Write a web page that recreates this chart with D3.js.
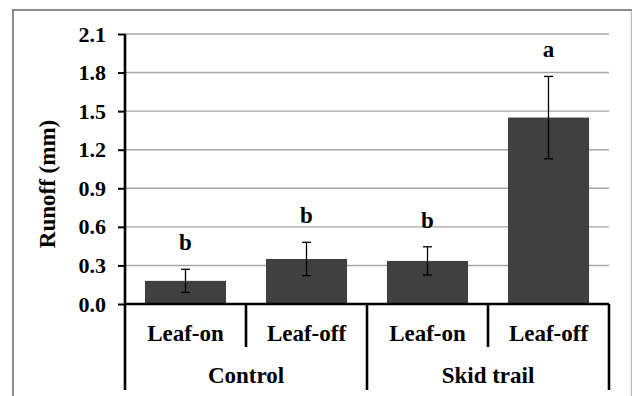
<!DOCTYPE html>
<html>
<head>
<meta charset="utf-8">
<script src="https://cdn.jsdelivr.net/npm/d3@7"></script>
<style>
  body { margin: 0; background: #fff; }
</style>
</head>
<body>
<svg width="632" height="396"></svg>
<script>
// values
const groups = ["Control", "Skid trail"];
const seasons = ["Leaf-on", "Leaf-off", "Leaf-on", "Leaf-off"];
const runoff = [0.18, 0.35, 0.335, 1.45];
const stdErr = [0.09, 0.13, 0.11, 0.32];
const letters = ["b", "b", "b", "a"];
const yTicks = [0, 0.3, 0.6, 0.9, 1.2, 1.5, 1.8, 2.1];

const serif = "'Liberation Serif', 'DejaVu Serif', serif";

const svg = d3.select('svg');
const width = +svg.attr('width');
const height = +svg.attr('height');
const margin = {top: 34, right: 23, bottom: 92, left: 125};
const innerWidth = width - margin.left - margin.right;
const innerHeight = height - margin.top - margin.bottom;

// chart frame
svg.append('rect')
  .attr('x', 13).attr('y', 10)
  .attr('width', 618).attr('height', 400)
  .attr('fill', '#fff')
  .attr('stroke', '#8c8c8c')
  .attr('stroke-width', 2);
svg.append('line')
  .attr('x1', 630.5).attr('x2', 630.5).attr('y1', 11).attr('y2', 396)
  .attr('stroke', '#eee').attr('stroke-width', 2);

const g = svg.append('g').attr('transform', `translate(${margin.left},${margin.top})`);

const idx = d3.range(runoff.length);
const xScale = d3.scaleBand()
  .domain(idx)
  .range([0, innerWidth])
  .paddingInner(0.33)
  .paddingOuter(0.165);
const xBound = d3.scaleLinear().domain([0, idx.length]).range([0, innerWidth]);
const yScale = d3.scaleLinear().domain([0, 2.1]).range([innerHeight, 0]);

// gridlines
g.selectAll('.grid')
  .data(yTicks.slice(1))
  .enter().append('line')
  .attr('x1', 0).attr('x2', innerWidth)
  .attr('y1', d => yScale(d)).attr('y2', d => yScale(d))
  .attr('stroke', '#a6a6a6').attr('stroke-width', 1.4);

// bars
g.selectAll('.bar')
  .data(idx)
  .enter().append('rect')
  .attr('x', i => xScale(i))
  .attr('y', i => yScale(runoff[i]))
  .attr('width', xScale.bandwidth())
  .attr('height', i => innerHeight - yScale(runoff[i]))
  .attr('fill', '#404040');

// error bars
const cap = 4.5;
const eb = g.selectAll('.err').data(idx).enter().append('g')
  .attr('transform', i => `translate(${xScale(i) + xScale.bandwidth() / 2},0)`)
  .attr('stroke', '#000').attr('stroke-width', 1.3);
eb.append('line')
  .attr('y1', i => yScale(runoff[i] + stdErr[i]))
  .attr('y2', i => yScale(runoff[i] - stdErr[i]));
eb.append('line').attr('x1', -cap).attr('x2', cap)
  .attr('y1', i => yScale(runoff[i] + stdErr[i]))
  .attr('y2', i => yScale(runoff[i] + stdErr[i]));
eb.append('line').attr('x1', -cap).attr('x2', cap)
  .attr('y1', i => yScale(runoff[i] - stdErr[i]))
  .attr('y2', i => yScale(runoff[i] - stdErr[i]));

// significance letters
g.selectAll('.letter')
  .data(idx)
  .enter().append('text')
  .attr('x', i => xScale(i) + xScale.bandwidth() / 2)
  .attr('y', i => yScale(runoff[i] + stdErr[i]) - 19)
  .attr('text-anchor', 'middle')
  .style('font-family', serif).style('font-weight', 'bold')
  .style('font-size', '23px')
  .text(i => letters[i]);

// y axis
const yAxis = g.append('g')
  .call(d3.axisLeft(yScale).tickValues(yTicks).tickFormat(d3.format('.1f')).tickSize(7).tickPadding(12));
yAxis.attr('font-family', null).attr('font-size', null);
yAxis.select('.domain').remove();
yAxis.selectAll('.tick line').attr('stroke', '#000').attr('stroke-width', 2);
yAxis.selectAll('.tick text').attr('fill', '#000')
  .style('font-family', serif).style('font-weight', 'bold').style('font-size', '22px');

// axis lines
const axisColor = '#000';
g.append('line')
  .attr('x1', 0).attr('x2', 0).attr('y1', yScale(2.1)).attr('y2', innerHeight + 86)
  .attr('stroke', axisColor).attr('stroke-width', 2.6);
g.append('line')
  .attr('x1', 0).attr('x2', innerWidth).attr('y1', innerHeight).attr('y2', innerHeight)
  .attr('stroke', axisColor).attr('stroke-width', 2.6);

// category separators: short between seasons, long between groups
g.selectAll('.sep')
  .data(d3.range(1, idx.length + 1))
  .enter().append('line')
  .attr('x1', d => xBound(d)).attr('x2', d => xBound(d))
  .attr('y1', innerHeight)
  .attr('y2', d => d % 2 === 0 ? innerHeight + 86 : innerHeight + 43)
  .attr('stroke', axisColor).attr('stroke-width', 2.6);

// season labels
g.selectAll('.season')
  .data(idx)
  .enter().append('text')
  .attr('x', i => xScale(i) + xScale.bandwidth() / 2)
  .attr('y', innerHeight + 37)
  .attr('text-anchor', 'middle')
  .style('font-family', serif).style('font-weight', 'bold')
  .style('font-size', '23px')
  .text(i => seasons[i]);

// group labels
g.selectAll('.group')
  .data(groups)
  .enter().append('text')
  .attr('x', (d, k) => xBound(k * 2 + 1))
  .attr('y', innerHeight + 79)
  .attr('text-anchor', 'middle')
  .style('font-family', serif).style('font-weight', 'bold')
  .style('font-size', '23px')
  .text(d => d);

// y title
svg.append('text')
  .attr('transform', 'translate(55,184) rotate(-90)')
  .attr('text-anchor', 'middle')
  .style('font-family', serif).style('font-weight', 'bold')
  .style('font-size', '23px')
  .text('Runoff (mm)');
</script>
</body>
</html>
